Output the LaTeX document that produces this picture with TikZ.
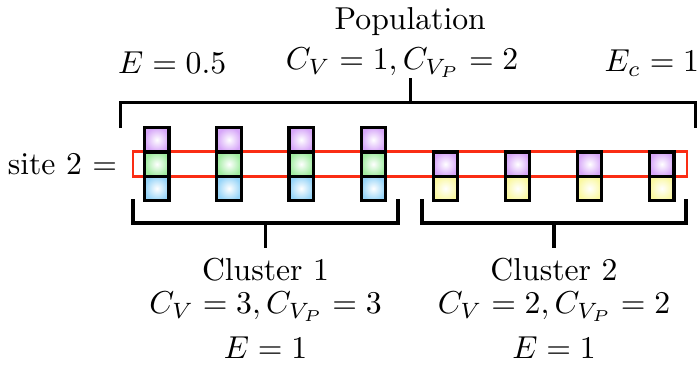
\documentclass[tikz,border=0pt]{standalone}
\usetikzlibrary{positioning,calc}
\definecolor{SiteRed}{RGB}{250,45,20}
\definecolor{CellPurple}{RGB}{214,166,248}
\definecolor{CellGreen}{RGB}{160,236,160}
\definecolor{CellBlue}{RGB}{150,212,248}
\definecolor{CellYellow}{RGB}{250,248,160}

\begin{document}
\begin{tikzpicture}[
  c/.style={rectangle,draw=black,line width=1pt,minimum size=0.27cm,inner sep=0pt,shading=radial,inner color=white},
  br/.style={line width=1pt}
]
  \useasboundingbox (0,0) rectangle (7.73,-4.09);
  % site row, behind the cells
  \node[draw=SiteRed,line width=0.8pt,minimum width=6.14cm,minimum height=0.277cm,inner sep=0pt] (site) at (4.547,-1.82) {};
  \node[left=0.04cm of site] (sitelbl) {site 2 $=$};
  % cluster 1 and cluster 2
  \foreach \i in {1,...,4} {
    \node[c,outer color=CellPurple] (p\i) at (1.74+0.8*\i-0.8,-1.55) {};
    \node[c,outer color=CellGreen] (g\i) at (1.74+0.8*\i-0.8,-1.82) {};
    \node[c,outer color=CellBlue] (b\i) at (1.74+0.8*\i-0.8,-2.09) {};
    \node[c,outer color=CellPurple] (q\i) at (4.94+0.8*\i-0.8,-1.82) {};
    \node[c,outer color=CellYellow] (y\i) at (4.94+0.8*\i-0.8,-2.09) {};
  }
  % population bracket
  \coordinate (tl) at (1.34,-1.42);
  \coordinate (tr) at (7.71,-1.42);
  \coordinate (tm) at (4.55,-0.865);
  \draw[br] (tl) -- ++(0,0.28) -| (tr);
  \draw[br] (tm) -- (tm |- 0,-1.142);
  \node (pop) at (4.55,-0.24) {Population};
  \node (e05) at (1.91,-0.70) {$E=0.5$};
  \node (cvp) at (4.46,-0.70) {$C_V=1,C_{V_P}=2$};
  \node (ec) at (7.23,-0.70) {$E_c=1$};
  % cluster brackets
  \coordinate (al) at (1.475,-2.207);
  \coordinate (ar) at (4.414,-2.207);
  \coordinate (bl) at (4.68,-2.207);
  \coordinate (bR) at (7.608,-2.207);
  \draw[br] (al) -- ++(0,-0.266) -| (ar);
  \draw[br] (bl) -- ++(0,-0.266) -| (bR);
  \node (cl1) at (2.945,-2.99) {Cluster 1};
  \node (cl1c) at (2.945,-3.40) {$C_V=3,C_{V_P}=3$};
  \node (cl1e) at (2.945,-3.86) {$E=1$};
  \node (cl2) at (6.144,-2.99) {Cluster 2};
  \node (cl2c) at (6.144,-3.40) {$C_V=2,C_{V_P}=2$};
  \node (cl2e) at (6.144,-3.86) {$E=1$};
  \draw[br] (cl1 |- 0,-2.473) -- (cl1 |- 0,-2.75);
  \draw[br] (cl2 |- 0,-2.473) -- (cl2 |- 0,-2.75);
\end{tikzpicture}
\end{document}
